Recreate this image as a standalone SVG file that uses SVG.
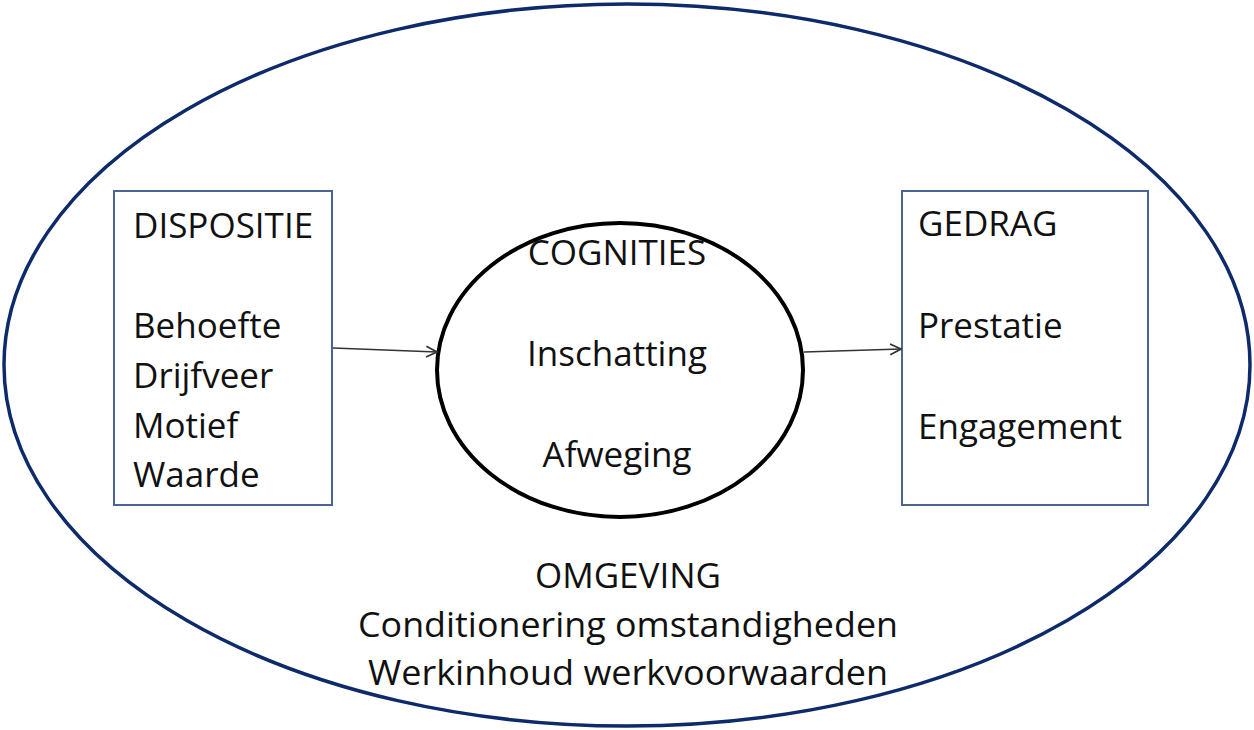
<svg xmlns="http://www.w3.org/2000/svg" width="1254" height="730" viewBox="0 0 1254 730">
  <style>
    .lbl { font-family: "Open Sans", "Liberation Sans", sans-serif; font-size: 35px; fill: #111; }
    .mid { text-anchor: middle; }
    .box { fill: #fff; stroke: #4a6496; stroke-width: 2; }
    .conn { fill: none; stroke: #333; stroke-width: 1.6; }
  </style>
  <defs>
    <marker id="open-arrow" viewBox="0 0 12 12" refX="11" refY="6" markerWidth="13" markerHeight="13" markerUnits="userSpaceOnUse" orient="auto">
      <path d="M1,1 L11,6 L1,11" fill="none" stroke="#333" stroke-width="1.6"/>
    </marker>
  </defs>
  <rect width="1254" height="730" fill="#fff"/>

  <!-- environment ellipse -->
  <g id="omgeving">
    <ellipse cx="627" cy="365" rx="623" ry="361" fill="#fff" stroke="#0d2a6b" stroke-width="3.5"/>
    <text class="lbl mid" x="628" y="588">OMGEVING</text>
    <text class="lbl mid" x="628" y="637" textLength="540" lengthAdjust="spacingAndGlyphs">Conditionering omstandigheden</text>
    <text class="lbl mid" x="628" y="685" textLength="520" lengthAdjust="spacingAndGlyphs">Werkinhoud werkvoorwaarden</text>
  </g>

  <g id="dispositie">
    <rect class="box" x="114" y="191" width="218" height="314"/>
    <text class="lbl" x="133" y="238">DISPOSITIE</text>
    <text class="lbl" x="133" y="338">Behoefte</text>
    <text class="lbl" x="133" y="388">Drijfveer</text>
    <text class="lbl" x="133" y="438">Motief</text>
    <text class="lbl" x="133" y="487">Waarde</text>
  </g>

  <g id="cognities">
    <ellipse cx="620" cy="370" rx="183" ry="147" fill="#fff" stroke="#000" stroke-width="4"/>
    <text class="lbl mid" x="617" y="265">COGNITIES</text>
    <text class="lbl mid" x="617" y="366">Inschatting</text>
    <text class="lbl mid" x="617" y="467">Afweging</text>
  </g>

  <g id="gedrag">
    <rect class="box" x="902" y="191" width="246" height="314"/>
    <text class="lbl" x="918" y="236">GEDRAG</text>
    <text class="lbl" x="918" y="338">Prestatie</text>
    <text class="lbl" x="918" y="439">Engagement</text>
  </g>

  <g id="connectors">
    <line class="conn" x1="333" y1="348" x2="437" y2="352" marker-end="url(#open-arrow)"/>
    <line class="conn" x1="804" y1="352" x2="901" y2="349" marker-end="url(#open-arrow)"/>
  </g>
</svg>
